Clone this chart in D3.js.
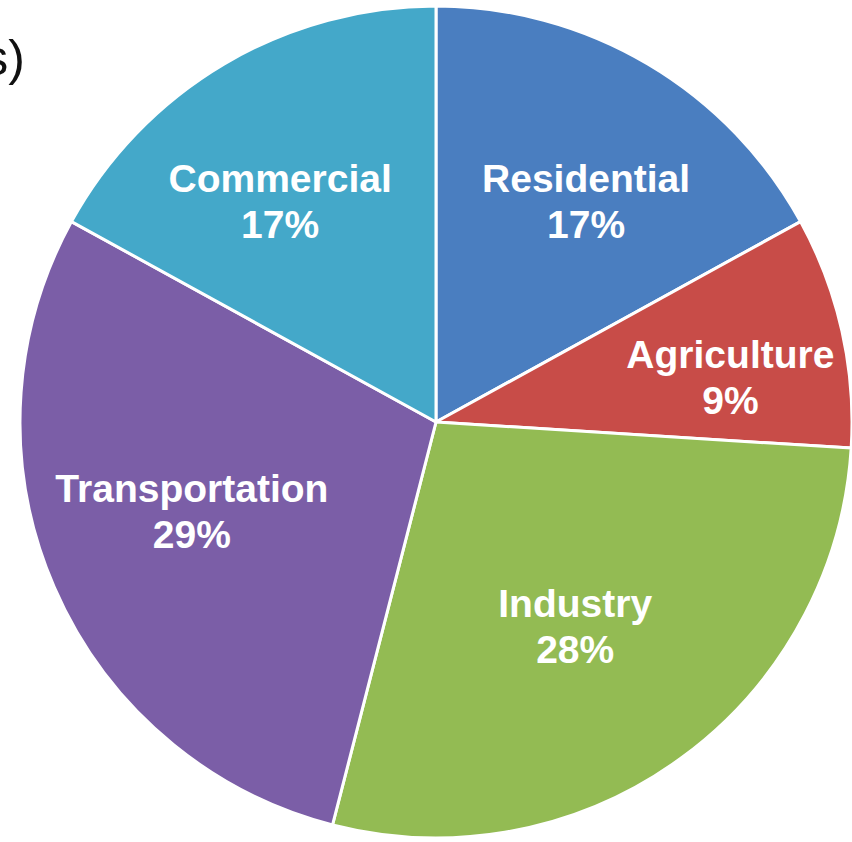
<!DOCTYPE html>
<html>
<head>
<meta charset="utf-8">
<script src="https://cdn.jsdelivr.net/npm/d3@7"></script>
<style>
  html, body { margin: 0; padding: 0; background: #ffffff; }
  svg { display: block; }
</style>
</head>
<body>
<svg id="chart" width="852" height="842"></svg>
<script>
// Emissions share by economic sector (percent), clockwise from 12 o'clock
const sectors = ["Residential", "Agriculture", "Industry", "Transportation", "Commercial"];
const shares = [17, 9, 28, 29, 17];
const sectorColors = ["#4a7ec0", "#c84c48", "#93bb53", "#7b5ea7", "#44a8c9"];

const width = 852, height = 842;
const cx = 436, cy = 422, radius = 416;

// hand-placed label offsets: radius and angular nudge (degrees) per sector
const labelLayout = {
  Residential:    { r: 256, da: 5.3 },
  Agriculture:    { r: 296, da: 6.6 },
  Industry:       { r: 259, da: 3.5 },
  Transportation: { r: 265, da: 0.5 },
  Commercial:     { r: 259, da: -6.4 }
};

const svg = d3.select("#chart");

// title fragment at the top-left edge
svg.append("text")
  .attr("x", 25)
  .attr("y", 75)
  .attr("text-anchor", "end")
  .attr("font-family", "'Liberation Sans', Arial, Helvetica, sans-serif")
  .attr("font-size", 50)
  .attr("fill", "#111")
  .text("s)");

const data = sectors.map((s, i) => ({ sector: s, value: shares[i], color: sectorColors[i] }));

const pie = d3.pie().sort(null).value(d => d.value);
const arc = d3.arc().innerRadius(0).outerRadius(radius);
const arcs = pie(data);

const g = svg.append("g").attr("transform", `translate(${cx},${cy})`);

g.selectAll("path.slice")
  .data(arcs)
  .join("path")
  .attr("class", "slice")
  .attr("d", arc)
  .attr("fill", d => d.data.color)
  .attr("stroke", "#ffffff")
  .attr("stroke-width", 3)
  .attr("stroke-linejoin", "round");

const labels = g.selectAll("text.label")
  .data(arcs)
  .join("text")
  .attr("class", "label")
  .attr("text-anchor", "middle")
  .attr("font-family", "'Liberation Sans', Arial, Helvetica, sans-serif")
  .attr("font-weight", "bold")
  .attr("font-size", 39)
  .attr("fill", "#ffffff")
  .attr("transform", d => {
    const L = labelLayout[d.data.sector];
    const a = (d.startAngle + d.endAngle) / 2 + L.da * Math.PI / 180;
    const x = Math.sin(a) * L.r;
    const y = -Math.cos(a) * L.r;
    return `translate(${x},${y})`;
  });

labels.append("tspan")
  .attr("x", 0)
  .attr("y", -23)
  .text(d => d.data.sector);

labels.append("tspan")
  .attr("x", 0)
  .attr("y", 23)
  .text(d => d.data.value + "%");
</script>
</body>
</html>
